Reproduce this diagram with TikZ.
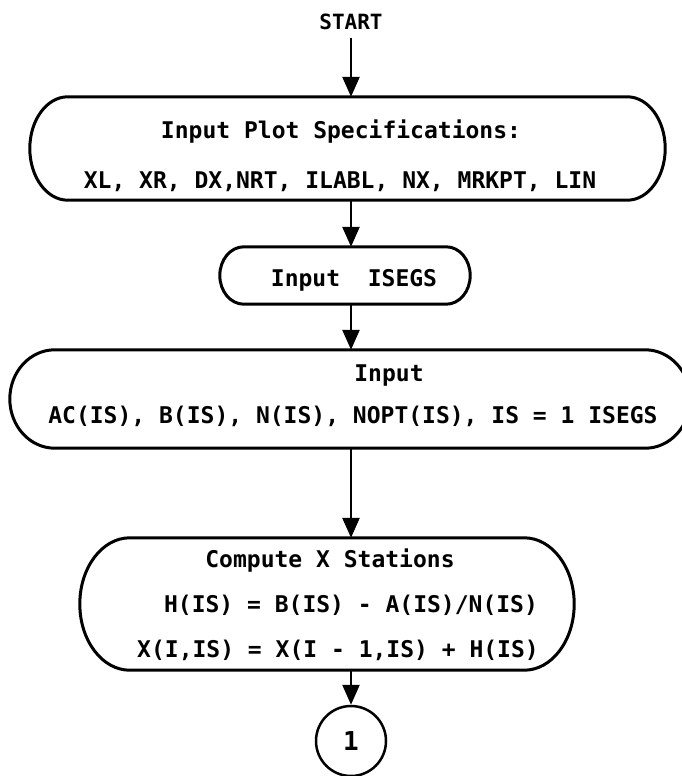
\documentclass[tikz,border=0pt]{standalone}
\usepackage{fontspec}
\setmonofont{DejaVu Sans Mono}
\usetikzlibrary{arrows.meta,calc}
\tikzset{
  lbl/.style={font=\ttfamily\bfseries\fontsize{23}{27}\selectfont, inner sep=0pt, anchor=base},
  frame/.style={draw=none, inner sep=0pt, rectangle},
  boxline/.style={line width=3pt, line join=round},
  arr/.style={line width=2.5pt, -{Triangle[length=20pt,width=17pt]}},
  conn/.style={circle, draw, line width=2.5pt, minimum size=70pt, inner sep=0pt,
    font=\ttfamily\bfseries\fontsize{26}{30}\selectfont},
}
\newcommand\stadium[2]{%
  \draw[boxline] let \p1=(#1.north west), \p2=(#1.south east), \n1={(\y1-\y2)/2} in
    (\x1+#2pt,\y1) -- (\x2-#2pt,\y1)
    arc[start angle=90,end angle=-90,x radius=#2pt,y radius=\n1]
    -- (\x1+#2pt,\y2)
    arc[start angle=270,end angle=90,x radius=#2pt,y radius=\n1] -- cycle;}
\begin{document}
\begin{tikzpicture}[x=1pt,y=1pt]
\useasboundingbox (0,0) rectangle (682,-776);
\fill[white] (0,0) rectangle (682,-776);
\coordinate (ax) at (351,0);

% START
\node[lbl, font=\ttfamily\bfseries\fontsize{21}{25}\selectfont] (start) at (351,-29.5) {START};

% box 1
\node[frame, minimum width=635pt, minimum height=103pt] (b1) at (347.5,-148.5) {};
\stadium{b1}{38}
\node[lbl] (t1a) at (341,-138) {Input Plot Specifications:};
\node[lbl] (t1b) at (340,-188) {XL, XR, DX,NRT, ILABL, NX, MRKPT, LIN};

% box 2
\node[frame, minimum width=250pt, minimum height=57pt] (b2) at (345,-275.5) {};
\stadium{b2}{24}
\node[lbl] (t2) at (354,-286) {Input\ \ ISEGS};

% box 3
\node[frame, minimum width=680pt, minimum height=98pt] (b3) at (350,-399) {};
\stadium{b3}{45}
\node[lbl] (t3a) at (389,-381) {Input};
\node[lbl] (t3b) at (353,-423) {AC(IS), B(IS), N(IS), NOPT(IS), IS = 1 ISEGS};

% box 4
\node[frame, minimum width=494pt, minimum height=132pt] (b4) at (327,-604) {};
\stadium{b4}{50}
\node[lbl] (t4a) at (330,-567) {Compute X Stations};
\node[lbl] (t4b) at (351,-612) {H(IS) = B(IS) - A(IS)/N(IS)};
\node[lbl] (t4c) at (338,-657) {X(I,IS) = X(I - 1,IS) + H(IS)};

% connector circle
\node[conn] (c1) at (351,-741) {1};

% arrows
\draw[arr] ($(start.south -| ax)+(0,-8)$) coordinate (s0) -- (b1.north -| ax);
\draw[arr] (b1.south -| ax) -- (b2.north -| ax);
\draw[arr] (b2.south -| ax) -- (b3.north -| ax);
\draw[arr] (b3.south -| ax) -- (b4.north -| ax);
\draw[arr] (b4.south -| c1) -- (c1.north);
\end{tikzpicture}
\end{document}
